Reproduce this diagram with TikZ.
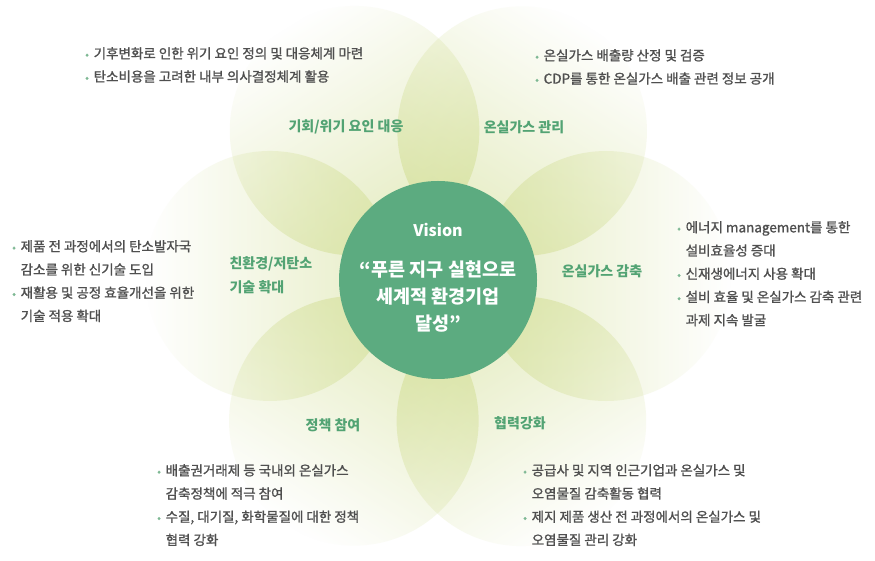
\documentclass[tikz,border=0pt]{standalone}
\usepackage{fontspec}
\setmainfont{Noto Sans CJK KR}
\newfontfamily\krbody{Noto Sans CJK KR}[FakeBold=1.2]
\usetikzlibrary{fadings}

\definecolor{petalgreen}{HTML}{CFDC8C}
\definecolor{visiongreen}{HTML}{5CAB80}
\definecolor{titlegreen}{HTML}{52A373}
\definecolor{bodygray}{HTML}{4F4F4F}
\definecolor{dotgreen}{HTML}{7DB893}

\tikzfading[name=petalfade, left color=transparent!42,
            middle color=transparent!50, right color=transparent!100]

\newcommand{\itm}{\makebox[8.5pt][l]{\textcolor{dotgreen}{\fontsize{11}{11}\selectfont•}}}
\newcommand{\cnt}{\hspace*{8.5pt}}

\begin{document}
\begin{tikzpicture}[
  x=1pt, y=1pt,
  petal/.style={fill=petalgreen},
  hub/.style={circle, fill=visiongreen, minimum size=198pt, inner sep=0pt},
  hubtitle/.style={font=\fontsize{16}{16}\selectfont\bfseries, text=white},
  hubtext/.style={font=\fontsize{18.5}{27}\selectfont\bfseries, text=white,
                  align=center},
  ttl/.style={font=\fontsize{14}{24}\selectfont\bfseries, text=titlegreen},
  blurb/.style={font=\krbody\fontsize{13.5}{23.2}\selectfont, text=bodygray,
                align=left, inner sep=0pt, anchor=north west}
]
\useasboundingbox (0,0) rectangle (875,561);
\fill[white] (0,0) rectangle (875,561);
% ----- petals -----
\coordinate (flower) at (438,285);
\foreach \a in {0,60,...,300}
  \fill[petal, path fading=petalfade, fading angle=\a]
    (flower) ++(\a:168) circle[radius=125];
% ----- vision -----
\node[hub] (hub) at (438,281) {};
\node[hubtitle] (vision) at (438,331) {Vision};
\node[hubtext] (goal) at (438,264) {“푸른 지구 실현으로\\세계적 환경기업\\달성”};
% ----- petal titles -----
\node[ttl] (risk) at (346,434) {기회/위기 요인 대응};
\node[ttl] (ghg) at (524,434) {온실가스 관리};
\node[ttl] (cut) at (602,290) {온실가스 감축};
\node[ttl, align=left, anchor=west] (tech) at (226,286) {친환경/저탄소\\기술 확대};
\node[ttl] (policy) at (333,136) {정책 참여};
\node[ttl] (coop) at (520,138) {협력강화};
% ----- bullet notes -----
\node[blurb] (riskn) at (85,514)
  {\itm 기후변화로 인한 위기 요인 정의 및 대응체계 마련\\
   \itm 탄소비용을 고려한 내부 의사결정체계 활용};
\node[blurb] (ghgn) at (535,512)
  {\itm 온실가스 배출량 산정 및 검증\\
   \itm CDP를 통한 온실가스 배출 관련 정보 공개};
\node[blurb] (cutn) at (677,340)
  {\itm 에너지 management를 통한\\
   \cnt 설비효율성 증대\\
   \itm 신재생에너지 사용 확대\\
   \itm 설비 효율 및 온실가스 감축 관련\\
   \cnt 과제 지속 발굴};
\node[blurb] (techn) at (12,321)
  {\itm 제품 전 과정에서의 탄소발자국\\
   \cnt 감소를 위한 신기술 도입\\
   \itm 재활용 및 공정 효율개선을 위한\\
   \cnt 기술 적용 확대};
\node[blurb] (policyn) at (157,97)
  {\itm 배출권거래제 등 국내외 온실가스\\
   \cnt 감축정책에 적극 참여\\
   \itm 수질, 대기질, 화학물질에 대한 정책\\
   \cnt 협력 강화};
\node[blurb] (coopn) at (523,97)
  {\itm 공급사 및 지역 인근기업과 온실가스 및\\
   \cnt 오염물질 감축활동 협력\\
   \itm 제지 제품 생산 전 과정에서의 온실가스 및\\
   \cnt 오염물질 관리 강화};
\end{tikzpicture}
\end{document}
